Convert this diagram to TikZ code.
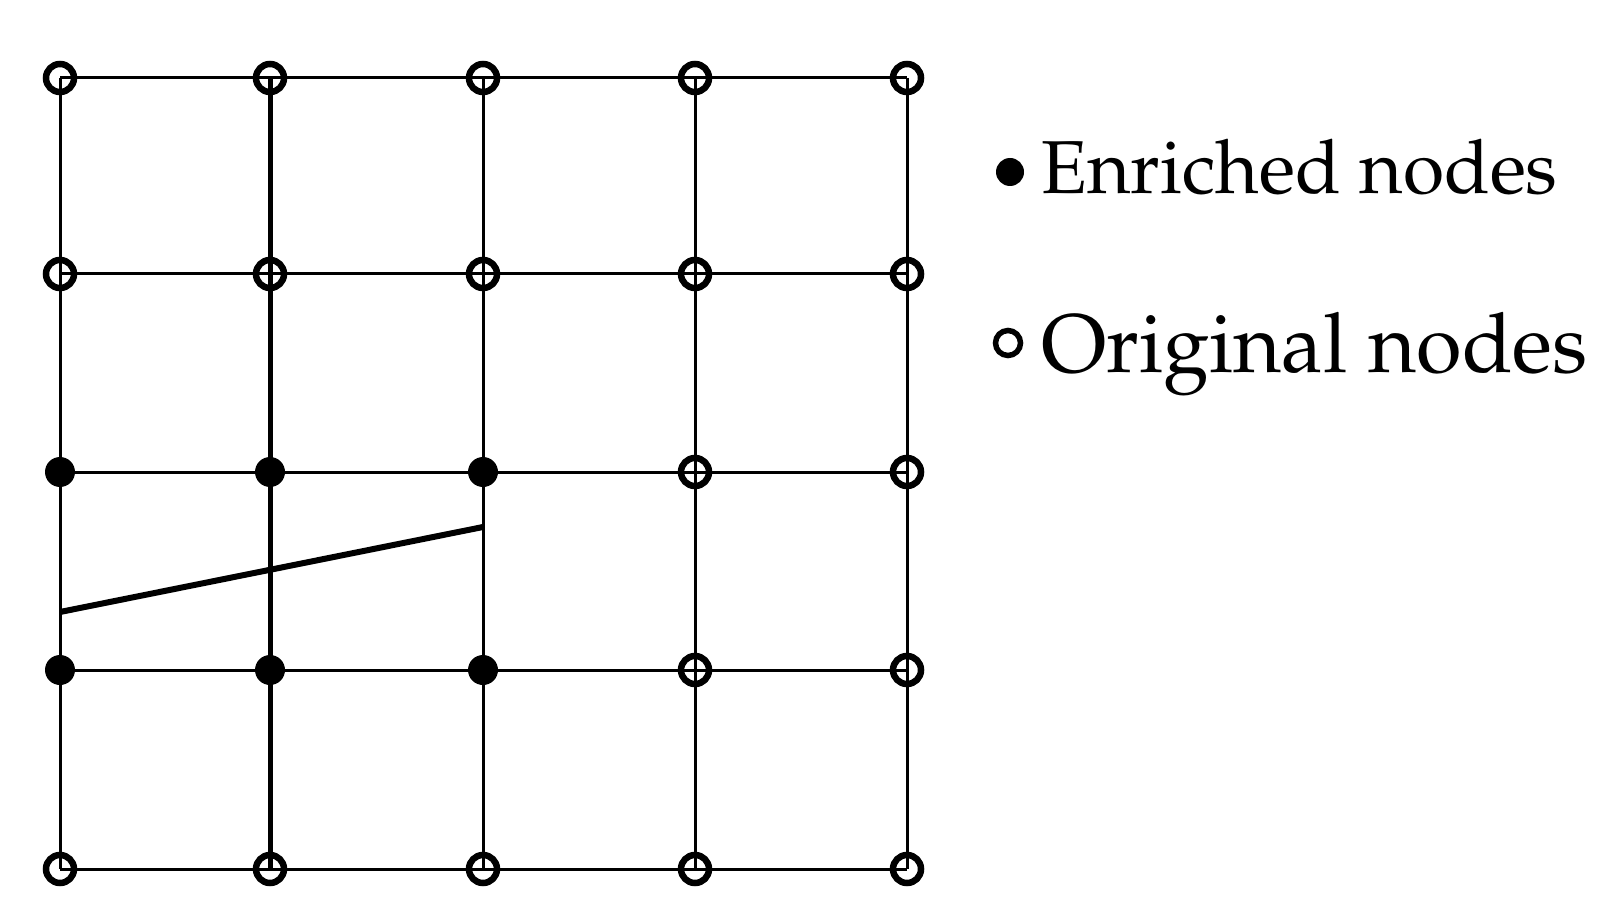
\documentclass[tikz,border=0pt]{standalone}
\IfFileExists{mathpazo.sty}{\usepackage[T1]{fontenc}\usepackage{mathpazo}}{\usepackage{fontspec}\setmainfont{Liberation Serif}}
\begin{document}
\begin{tikzpicture}[x=1pt,y=-1pt,
  orig/.style={circle,draw=black,line width=6.5pt,inner sep=0pt,minimum size=28pt},
  enr/.style={circle,fill=black,inner sep=0pt,minimum size=30pt},
  lorig/.style={circle,draw=black,line width=5.5pt,inner sep=0pt,minimum size=25pt},
  lenr/.style={circle,fill=black,inner sep=0pt,minimum size=28pt},
  gridline/.style={line width=3pt},
  thickline/.style={line width=5pt},
  crackline/.style={line width=6pt},
  legendtext/.style={anchor=base west,inner sep=0pt}]
\useasboundingbox (0,0) rectangle (1604,917);
% grid lines
\foreach \j/\y in {1/78,2/274,3/472,4/670,5/869}{
  \draw[gridline] (60,\y) -- (907,\y);
}
\foreach \i/\x in {1/60,3/483,4/695,5/907}{
  \draw[gridline] (\x,78) -- (\x,869);
}
\draw[thickline] (270,78) -- (270,869);
% crack
\coordinate (c1) at (60,612);
\coordinate (c2) at (483,527);
\draw[crackline] (c1) -- (c2);
% nodes
\foreach \i/\x in {1/60,2/270,3/483,4/695,5/907}{
  \foreach \j/\y in {1/78,2/274,5/869}{
    \node[orig] (n\i\j) at (\x,\y) {};
  }
}
\foreach \i/\x in {4/695,5/907}{
  \foreach \j/\y in {3/472,4/670}{
    \node[orig] (n\i\j) at (\x,\y) {};
  }
}
\foreach \i/\x in {1/60,2/270,3/483}{
  \foreach \j/\y in {3/472,4/670}{
    \node[enr] (n\i\j) at (\x,\y) {};
  }
}
% legend
\node[lenr] (le) at (1010,172) {};
\node[legendtext,font=\fontsize{75}{80}\selectfont] (lt1) at (1041,194) {Enriched nodes};
\node[lorig] (lo) at (1008,343) {};
\node[legendtext,font=\fontsize{83}{90}\selectfont] (lt2) at (1041,373) {Original nodes};
\end{tikzpicture}
\end{document}
